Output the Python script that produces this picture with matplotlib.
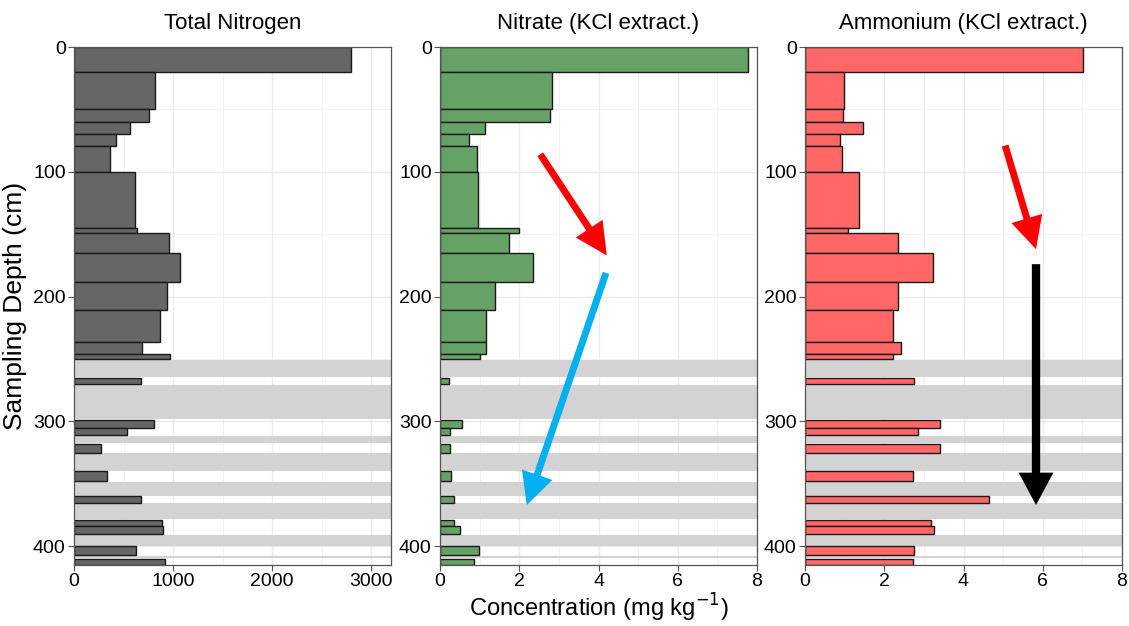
import numpy as np
import matplotlib
matplotlib.use("Agg")
import matplotlib.pyplot as plt
from matplotlib.ticker import MultipleLocator

plt.rcParams['font.family'] = ['Liberation Sans', 'DejaVu Sans']

# sampling intervals (cm)
depth_top = [0, 20, 50, 60, 70, 79, 100, 145, 149, 165, 188, 211, 236, 246,
             265, 299, 305, 318, 340, 360, 379, 384, 400, 410]
depth_bottom = [20, 50, 60, 70, 79, 100, 145, 149, 165, 188, 211, 236, 246, 250,
                270, 305, 311, 325, 348, 365, 384, 390, 407, 415]

total_n = [2795, 819, 762, 570, 419, 359, 614, 638, 960, 1074, 943, 869, 691, 970,
           674, 805, 537, 268, 329, 681, 889, 899, 621, 923]
nitrate = [7.78, 2.82, 2.77, 1.13, 0.74, 0.93, 0.96, 2.00, 1.73, 2.34, 1.40, 1.15, 1.15, 1.02,
           0.22, 0.55, 0.25, 0.26, 0.29, 0.35, 0.35, 0.51, 0.98, 0.85]
ammonium = [7.01, 0.99, 0.96, 1.47, 0.88, 0.93, 1.36, 1.09, 2.34, 3.24, 2.34, 2.23, 2.43, 2.23,
            2.76, 3.40, 2.85, 3.41, 2.72, 4.65, 3.17, 3.25, 2.74, 2.72]

titles = ["Total Nitrogen", "Nitrate (KCl extract.)", "Ammonium (KCl extract.)"]
colors = ["#666666", "#66a266", "#ff6666"]
xmax = [3200, 8, 8]
xmajor = [1000, 2, 2]

tops = np.array(depth_top)
bots = np.array(depth_bottom)
heights = bots - tops

# gaps between sampled intervals (no core recovery)
gaps = [(b, t) for b, t in zip(bots[:-1], tops[1:]) if t > b]

fig = plt.figure(figsize=(11.29, 6.26), dpi=100)
lefts = [74, 440, 805]
axes = []
for i, vals in enumerate([total_n, nitrate, ammonium]):
    ax = fig.add_axes([lefts[i] / 1129, 1 - 565 / 626, 317 / 1129, 518 / 626])
    axes.append(ax)
    ax.set_xlim(0, xmax[i])
    ax.set_ylim(415, 0)
    ax.xaxis.set_major_locator(MultipleLocator(xmajor[i]))
    ax.xaxis.set_minor_locator(MultipleLocator(xmajor[i] / 2))
    ax.yaxis.set_major_locator(MultipleLocator(100))
    ax.yaxis.set_minor_locator(MultipleLocator(50))
    ax.grid(which='major', color='#ebebeb', lw=1.0, zorder=0)
    ax.grid(which='minor', color='#f2f2f2', lw=0.7, zorder=0)
    ax.set_axisbelow(True)
    for g0, g1 in gaps:
        ax.axhspan(g0 + 0.6, g1 - 0.6, color='#d3d3d3', lw=0, zorder=1)
    ax.barh(tops, vals, height=heights, align='edge', color=colors[i],
            edgecolor='#1a1a1a', linewidth=1.0, zorder=2)
    ax.set_title(titles[i], fontsize=16, pad=13)
    for s in ax.spines.values():
        s.set_color('#555555')
        s.set_linewidth(0.9)
    ax.tick_params(which='major', length=4, color='#555555', labelsize=14, pad=2)
    ax.tick_params(which='minor', length=0)

axes[0].set_ylabel("Sampling Depth (cm)", fontsize=19, labelpad=4)
axes[1].set_xlabel("Concentration (mg kg$^{-1}$)", fontsize=17, labelpad=1)

# annotation arrows
def arrow(ax, start, end, color, lw, hl, hw):
    ax.annotate("", xy=end, xytext=start,
                arrowprops=dict(arrowstyle=f'-|>,head_length={hl},head_width={hw}',
                                color=color, lw=lw, shrinkA=0, shrinkB=0,
                                capstyle='butt', joinstyle='miter'), zorder=5)

arrow(axes[1], (2.53, 86), (4.21, 167), '#ff0000', 5, 1.5, 0.75)
arrow(axes[1], (4.19, 181), (2.19, 367), '#00b0f0', 5, 1.5, 0.75)
arrow(axes[2], (5.05, 79), (5.83, 162), '#ff0000', 5, 1.5, 0.75)
arrow(axes[2], (5.83, 174), (5.83, 367), '#000000', 6, 1.4, 0.75)

fig.savefig("out.png", dpi=100)
